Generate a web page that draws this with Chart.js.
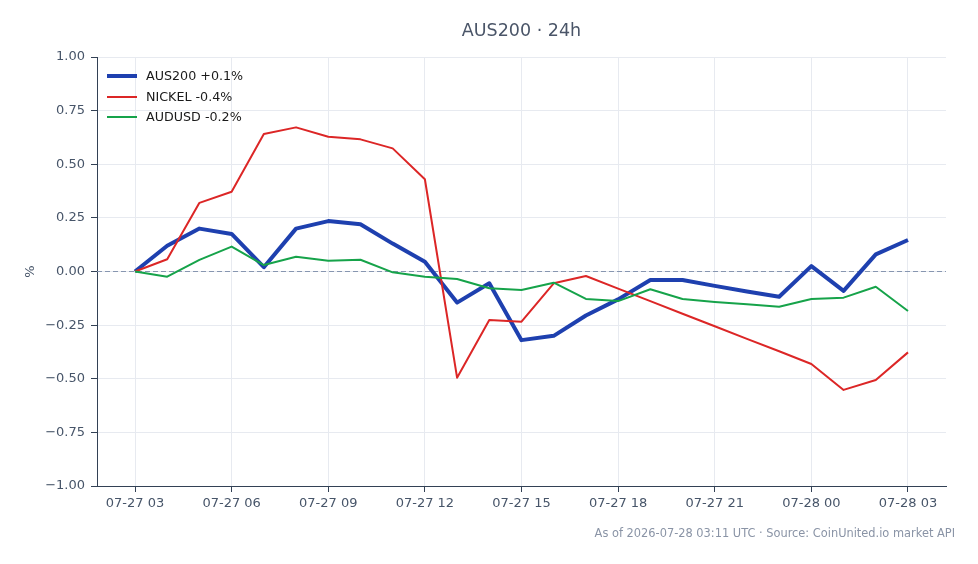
<!DOCTYPE html>
<html>
<head>
<meta charset="utf-8">
<script src="https://cdn.jsdelivr.net/npm/chart.js@4.4.1/dist/chart.umd.min.js"></script>
<style>
  html, body { margin: 0; padding: 0; background: #ffffff; }
  #wrap { width: 978px; height: 564px; }
</style>
</head>
<body>
<div id="wrap"><canvas id="c" width="978" height="564"></canvas></div>
<script>
const categories = [
  '07-27 03','07-27 04','07-27 05','07-27 06','07-27 07','07-27 08','07-27 09','07-27 10',
  '07-27 11','07-27 12','07-27 13','07-27 14','07-27 15','07-27 16','07-27 17','07-27 18',
  '07-27 19','07-27 20','07-27 21','07-27 22','07-27 23','07-28 00','07-28 01','07-28 02','07-28 03'
];
const aus200 = [0, 0.12, 0.20, 0.175, 0.02, 0.20, 0.235, 0.22, 0.13, 0.045, -0.145, -0.055,
  -0.32, -0.30, -0.205, -0.13, -0.04, -0.04, -0.067, -0.093, -0.118, 0.025, -0.09, 0.08, 0.147];
const nickel = [0, 0.057, 0.32, 0.372, 0.641, 0.672, 0.628, 0.616, 0.574, 0.43, -0.495, -0.226,
  -0.234, -0.055, -0.021, -0.08, -0.138, -0.197, -0.255, -0.314, -0.372, -0.431, -0.552, -0.506, -0.377];
const audusd = [0, -0.024, 0.054, 0.116, 0.03, 0.069, 0.05, 0.055, -0.004, -0.024, -0.035, -0.078,
  -0.086, -0.052, -0.128, -0.138, -0.083, -0.128, -0.142, -0.153, -0.164, -0.128, -0.122, -0.071, -0.184];
const seriesNames = ['AUS200 +0.1%', 'NICKEL -0.4%', 'AUDUSD -0.2%'];
const xTickIndexes = [0, 3, 6, 9, 12, 15, 18, 21, 24];
const yTickValues = [-1, -0.75, -0.5, -0.25, 0, 0.25, 0.5, 0.75, 1];
const titleText = 'AUS200 \u00b7 24h';
const yAxisTitle = '%';
const footnote = 'As of 2026-07-28 03:11 UTC \u00b7 Source: CoinUnited.io market API';

const COLORS = ['#1e40af', '#dc2626', '#16a34a'];
const WIDTHS = [4, 2, 2];
const FONT = "'DejaVu Sans', sans-serif";
const TEXT = '#475569';
const AXIS = '#334155';
const GRID = '#e7eaf0';

const toPts = arr => arr.map((v, i) => ({ x: i, y: v }));

const extras = {
  id: 'extras',
  beforeDatasetsDraw(chart) {
    const { ctx, chartArea, scales } = chart;
    const y0 = scales.y.getPixelForValue(0);
    ctx.save();
    ctx.strokeStyle = '#8796b0';
    ctx.lineWidth = 1;
    ctx.setLineDash([5, 3]);
    ctx.beginPath();
    ctx.moveTo(chartArea.left, y0);
    ctx.lineTo(chartArea.right, y0);
    ctx.stroke();
    ctx.restore();
  },
  afterDraw(chart) {
    const { ctx, chartArea } = chart;
    ctx.save();
    // title
    ctx.fillStyle = '#4a5568';
    ctx.font = '17.5px ' + FONT;
    ctx.textAlign = 'center';
    ctx.textBaseline = 'middle';
    ctx.fillText(titleText, (chartArea.left + chartArea.right) / 2, 31);
    // y title
    ctx.save();
    ctx.translate(31, (chartArea.top + chartArea.bottom) / 2);
    ctx.rotate(-Math.PI / 2);
    ctx.font = '13px ' + FONT;
    ctx.fillStyle = TEXT;
    ctx.fillText(yAxisTitle, 0, 0);
    ctx.restore();
    // footnote
    ctx.font = '11.4px ' + FONT;
    ctx.fillStyle = '#8a94a6';
    ctx.textAlign = 'right';
    ctx.fillText(footnote, 955, 534);
    // legend
    const ys = [76, 97, 117];
    ctx.textAlign = 'left';
    ctx.font = '12.7px ' + FONT;
    seriesNames.forEach((name, i) => {
      ctx.strokeStyle = COLORS[i];
      ctx.lineWidth = WIDTHS[i];
      ctx.beginPath();
      ctx.moveTo(107, ys[i]);
      ctx.lineTo(137, ys[i]);
      ctx.stroke();
      ctx.fillStyle = '#1a1a1a';
      ctx.fillText(name, 146, ys[i] + 0.5);
    });
    ctx.restore();
  }
};

const ds = [aus200, nickel, audusd].map((arr, i) => ({
  label: seriesNames[i],
  data: toPts(arr),
  borderColor: COLORS[i],
  backgroundColor: COLORS[i],
  borderWidth: WIDTHS[i],
  pointRadius: 0,
  tension: 0,
  fill: false,
  borderJoinStyle: 'round',
  order: 3 - i
}));

new Chart(document.getElementById('c'), {
  type: 'line',
  data: { datasets: ds },
  options: {
    responsive: false,
    animation: false,
    devicePixelRatio: 1,
    layout: { padding: { left: 0, right: 32, top: 57, bottom: 0 } },
    plugins: { legend: { display: false }, title: { display: false }, tooltip: { enabled: false } },
    scales: {
      x: {
        type: 'linear',
        min: -1.18,
        max: 25.18,
        afterBuildTicks(scale) { scale.ticks = xTickIndexes.map(v => ({ value: v })); },
        afterFit(scale) { scale.height = 78; },
        ticks: {
          callback: v => categories[v],
          color: TEXT,
          font: { family: FONT, size: 13 },
          padding: 4,
          maxRotation: 0,
          autoSkip: false
        },
        grid: { color: GRID, tickColor: AXIS, tickLength: 6, drawOnChartArea: true },
        border: { display: true, color: AXIS, width: 1 }
      },
      y: {
        min: -1,
        max: 1,
        afterBuildTicks(scale) { scale.ticks = yTickValues.map(v => ({ value: v })); },
        afterFit(scale) { scale.width = 97; },
        ticks: {
          callback: v => (v < 0 ? '\u2212' : '') + Math.abs(v).toFixed(2),
          color: TEXT,
          font: { family: FONT, size: 13 },
          padding: 6
        },
        grid: { color: GRID, tickColor: AXIS, tickLength: 6 },
        border: { display: true, color: AXIS, width: 1 }
      }
    }
  },
  plugins: [extras]
});
</script>
</body>
</html>
